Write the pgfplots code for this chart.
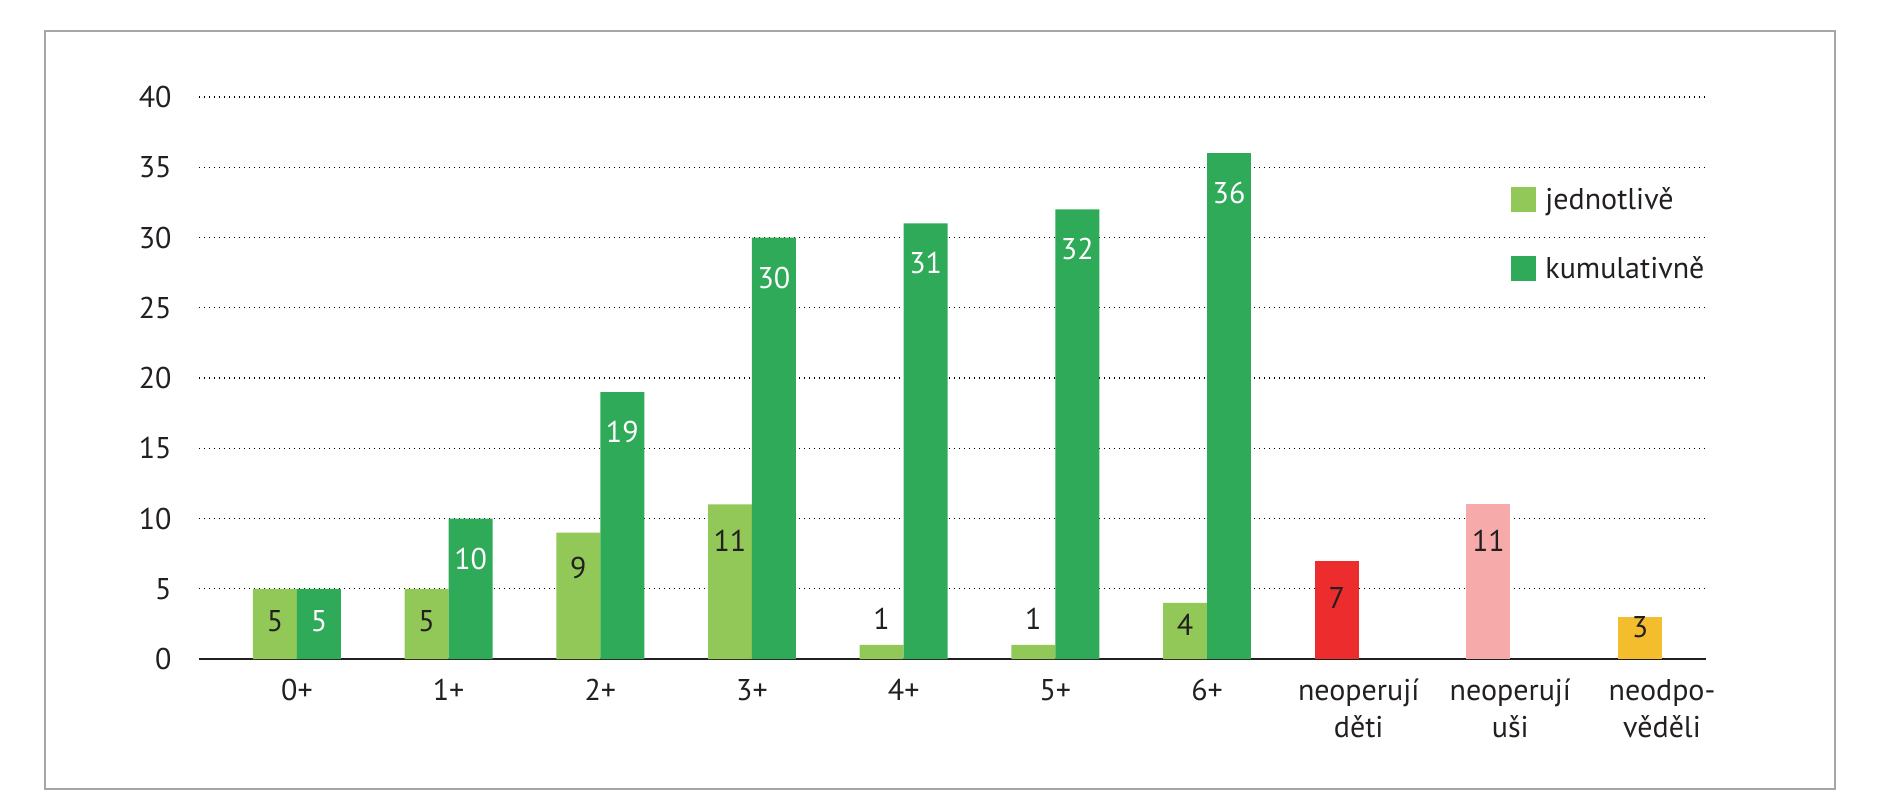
\documentclass[border=0pt]{standalone}
\usepackage{fontspec}
\setmainfont{PT Sans}
\usepackage{pgfplots}
\usepackage{pgfplotstable}
\pgfplotsset{compat=1.18}

\definecolor{lightg}{HTML}{92C857}
\definecolor{darkg}{HTML}{2EAA58}
\definecolor{redc}{HTML}{ED2D2D}
\definecolor{pinkc}{HTML}{F7AAAA}
\definecolor{yellowc}{HTML}{F3BD2E}
\definecolor{txt}{HTML}{231F20}
\definecolor{framec}{HTML}{A6A6A6}

% x = category index, y = value, off = shift of the value label (pt)
\pgfplotstableread{
x y off
0 5 -16
1 5 -16
2 9 -17.5
3 11 -18
4 1 13
5 1 13
6 4 -11
}\single
\pgfplotstableread{
x y off
0 5 -16
1 10 -20
2 19 -20
3 30 -20
4 31 -20
5 32 -20
6 36 -20
}\cumul
\pgfplotstableread{
x y off
7 7 -18.5
}\deti
\pgfplotstableread{
x y off
8 11 -18
}\usi
\pgfplotstableread{
x y off
9 3 -5
}\neodp

\begin{document}
\begin{tikzpicture}[font=\fontsize{15}{18.5}\selectfont, text=txt]
\begin{axis}[
  scale only axis,
  width=753.5pt, height=281pt,
  xmin=-0.646, xmax=9.29,
  ymin=0, ymax=40,
  axis lines*=left,
  y axis line style={draw=none},
  x axis line style={txt, line width=1pt},
  major tick length=0pt,
  ytick={0,5,...,40},
  xtick={0,...,9},
  xticklabels={\strut 0+,\strut 1+,\strut 2+,\strut 3+,\strut 4+,\strut 5+,\strut 6+,
    {\strut neoperují\\děti},{\strut neoperují\\uši},{\strut neodpo-\\věděli}},
  xticklabel style={align=center, anchor=north, inner sep=0pt, yshift=-7.5pt},
  yticklabel style={anchor=east, inner sep=0pt, xshift=-13.5pt},
  /pgf/number format/assume math mode=true,
  ymajorgrids,
  grid style={black, line width=0.7pt, dash pattern=on 0.7pt off 1.8pt},
  bar width=0.29,
  nodes near coords,
  visualization depends on={\thisrow{off}\as\myoff},
  every node near coord/.append style={anchor=center, inner sep=0pt, yshift=\myoff pt, text=txt},
  legend style={at={(rel axis cs:0.8706,0.84)}, anchor=north west,
    draw=none, fill=none, inner sep=0pt, row sep=22pt,
    nodes={inner sep=0pt}, cells={anchor=west}},
  legend image code/.code={\fill[#1] (0pt,-6.25pt) rectangle (12.5pt,6.25pt);
    \path (17pt,0pt);},
]
  \addplot[ybar, bar shift=-0.145, fill=lightg, draw=none,
    every node near coord/.append style={xshift=-11pt}] table[x=x, y=y] {\single};
  \addlegendentry{jednotlivě}
  \addplot[ybar, bar shift=0.145, fill=darkg, draw=none,
    every node near coord/.append style={xshift=11pt, text=white}] table[x=x, y=y] {\cumul};
  \addlegendentry{kumulativně}
  \addplot[ybar, bar shift=-0.145, fill=redc, draw=none, forget plot,
    every node near coord/.append style={xshift=-11pt}] table[x=x, y=y] {\deti};
  \addplot[ybar, bar shift=-0.145, fill=pinkc, draw=none, forget plot,
    every node near coord/.append style={xshift=-11pt}] table[x=x, y=y] {\usi};
  \addplot[ybar, bar shift=-0.145, fill=yellowc, draw=none, forget plot,
    every node near coord/.append style={xshift=-11pt}] table[x=x, y=y] {\neodp};
\end{axis}
\draw[framec, line width=1pt] (-77pt,-65pt) rectangle (818pt,314pt);
\path (-99.5pt,-70.5pt) rectangle (842.5pt,329.5pt);
\end{tikzpicture}
\end{document}
